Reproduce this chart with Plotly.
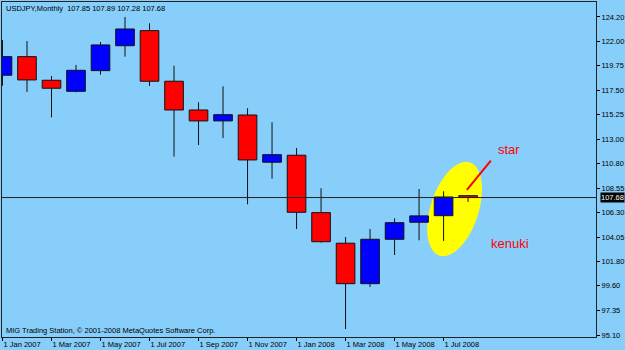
import numpy as np
import plotly.graph_objects as go

# ---- data (USDJPY monthly) ----
months = ["Jan 2007", "Feb 2007", "Mar 2007", "Apr 2007", "May 2007", "Jun 2007",
          "Jul 2007", "Aug 2007", "Sep 2007", "Oct 2007", "Nov 2007", "Dec 2007",
          "Jan 2008", "Feb 2008", "Mar 2008", "Apr 2008", "May 2008", "Jun 2008",
          "Jul 2008", "Aug 2008"]
opens = [118.87, 120.57, 118.41, 117.40, 119.29, 121.57, 122.95, 118.32, 115.69, 114.69,
         115.23, 110.91, 111.55, 106.30, 103.50, 99.80, 103.86, 105.42, 106.02, 107.85]
highs = [122.10, 122.00, 118.80, 119.81, 121.91, 124.20, 123.62, 119.74, 116.40, 117.86,
         115.85, 114.57, 112.21, 108.53, 104.07, 104.80, 105.78, 108.46, 108.25, 107.89]
lows = [117.91, 117.34, 115.02, 117.31, 118.92, 120.57, 117.89, 111.42, 112.49, 113.13,
        107.06, 109.41, 104.80, 103.55, 95.65, 99.50, 102.42, 103.77, 103.71, 107.28]
closes = [120.57, 118.44, 117.68, 119.32, 121.64, 123.10, 118.32, 115.69, 114.69, 115.26,
          111.12, 111.60, 106.33, 103.64, 99.80, 103.86, 105.38, 106.00, 107.73, 107.68]
price_ticks = [95.10, 97.35, 99.60, 101.80, 104.05, 106.30, 108.55, 110.80, 113.00,
               115.25, 117.50, 119.75, 122.00, 124.20]
last_price = 107.68
header = "USDJPY,Monthly  107.85 107.89 107.28 107.68"
footer = "MIG Trading Station, \u00a9 2001-2008 MetaQuotes Software Corp."

x = list(range(len(months)))
tick_idx = x[::2]
tick_txt = ["1 " + months[i] for i in tick_idx]

BG = "#87CEFA"
FONT = "Liberation Sans, Arial, sans-serif"
SMALL = 7.5
UP, DOWN, EDGE = "#0000FF", "#FF0000", "#111111"

fig = go.Figure()

# wicks (upper and lower segments outside the body)
wx, wy = [], []
for i, o, h, l, c in zip(x, opens, highs, lows, closes):
    top, bot = max(o, c), min(o, c)
    wx += [i, i, None, i, i, None]
    wy += [h, top, None, bot, l, None]
fig.add_trace(go.Scatter(x=wx, y=wy, mode="lines", line=dict(color=EDGE, width=1),
                         hoverinfo="skip", showlegend=False))

# bodies
bases = [min(o, c) for o, c in zip(opens, closes)]
sizes = [abs(c - o) for o, c in zip(opens, closes)]
colors = [UP if c >= o else DOWN for o, c in zip(opens, closes)]
fig.add_trace(go.Bar(x=x, y=sizes, base=bases, width=0.76,
                     marker=dict(color=colors, line=dict(color=EDGE, width=1)),
                     hoverinfo="skip", showlegend=False))

# rotated ellipse highlight (in pixel-scale units, converted to data units)
px_per_month = 24.5
px_per_yen = 10.93
cx, cy = 18.45, 106.63
a_px, b_px, theta = 49.0, 24.0, np.deg2rad(18)
t = np.linspace(0, 2 * np.pi, 72)
ux = b_px * np.cos(t)
uy = a_px * np.sin(t)
rx = ux * np.cos(theta) + uy * np.sin(theta)
ry = -ux * np.sin(theta) + uy * np.cos(theta)
ex = cx + rx / px_per_month
ey = cy + ry / px_per_yen
path = "M " + " L ".join(f"{a:.4f},{b:.4f}" for a, b in zip(ex, ey)) + " Z"
fig.add_shape(type="path", path=path, xref="x", yref="y", fillcolor="#FFFF00",
              line=dict(width=0), layer="below")

fig.add_shape(type="line", xref="paper", x0=0, x1=1, yref="y", y0=last_price, y1=last_price,
              line=dict(color="#222222", width=1), layer="above")
fig.add_shape(type="line", xref="x", yref="y", x0=18.95, y0=108.37, x1=19.93, y1=111.05,
              line=dict(color="#FF0000", width=2))

fig.add_annotation(text="star", x=20.67, y=112.03, xref="x", yref="y", showarrow=False,
                   font=dict(family=FONT, size=13, color="#FF0000"))
fig.add_annotation(text="kenuki", x=20.73, y=103.43, xref="x", yref="y", showarrow=False,
                   font=dict(family=FONT, size=13, color="#FF0000"))
fig.add_annotation(text=header, xref="paper", yref="paper", x=0, y=1, xanchor="left",
                   yanchor="top", xshift=2, yshift=0, showarrow=False,
                   font=dict(family=FONT, size=SMALL, color="#000000"))
fig.add_annotation(text=footer, xref="paper", yref="paper", x=0, y=0, xanchor="left",
                   yanchor="bottom", xshift=2, yshift=0, showarrow=False,
                   font=dict(family=FONT, size=SMALL, color="#000000"))
fig.add_annotation(text=f"{last_price:.2f}", xref="paper", yref="y", x=1, y=last_price,
                   xanchor="left", xshift=4, showarrow=False, bgcolor="#000000", borderpad=0,
                   font=dict(family=FONT, size=SMALL, color="#FFFFFF"))

fig.update_layout(
    width=625, height=350,
    margin=dict(l=2, r=29, t=2, b=13),
    paper_bgcolor=BG, plot_bgcolor=BG,
    font=dict(family=FONT, size=SMALL, color="#000000"),
    showlegend=False,
    xaxis=dict(range=[-0.02, 24.22], tickvals=tick_idx, ticktext=tick_txt,
               ticks="outside", ticklen=3, tickcolor="#000000",
               ticklabelposition="outside right", tickangle=0, automargin=False,
               tickfont=dict(family=FONT, size=SMALL, color="#000000"),
               showgrid=False, zeroline=False, showline=True, linecolor="#222222",
               mirror=True, fixedrange=True),
    yaxis=dict(range=[94.92, 125.57], side="right", tickvals=price_ticks,
               ticktext=[f"{v:.2f}" for v in price_ticks], automargin=False,
               tickfont=dict(family=FONT, size=SMALL, color="#000000"),
               ticks="outside", ticklen=3, tickcolor="#000000",
               showgrid=False, zeroline=False, showline=True, linecolor="#222222",
               mirror=True, fixedrange=True),
)

fig.write_html("out.html")
